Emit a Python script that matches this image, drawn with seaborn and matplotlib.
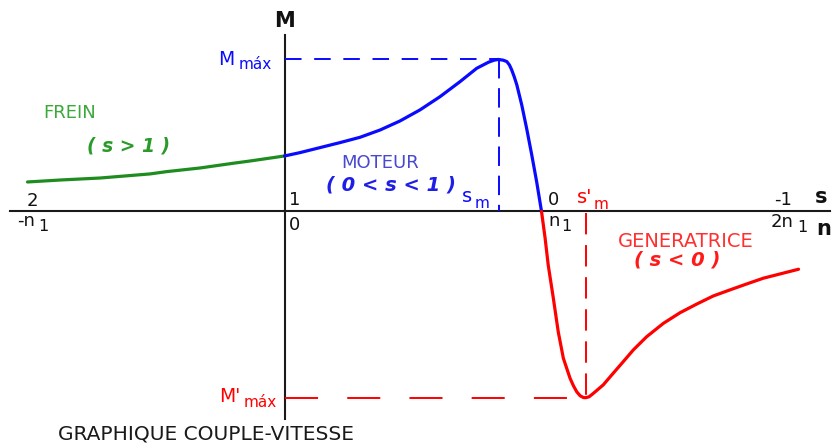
import numpy as np
import pandas as pd
import matplotlib
matplotlib.use("Agg")
import matplotlib.pyplot as plt
import seaborn as sns

# ---- data: slip s vs. torque M (M_max = 1) ----
frein_s = [2.0, 1.872, 1.718, 1.523, 1.459, 1.329, 1.200, 1.134, 1.0]
frein_M = [0.194, 0.207, 0.220, 0.247, 0.262, 0.286, 0.317, 0.332, 0.365]

moteur_s = [1.0, 0.940, 0.862, 0.784, 0.706, 0.628, 0.551, 0.473, 0.395, 0.317,
            0.252, 0.206, 0.185, 0.168, 0.149, 0.135, 0.125, 0.116, 0.106, 0.096,
            0.077, 0.058, 0.038, 0.019, 0.0]
moteur_M = [0.365, 0.387, 0.420, 0.453, 0.488, 0.536, 0.595, 0.668, 0.755, 0.854,
            0.942, 0.982, 0.995, 1.000, 0.995, 0.986, 0.964, 0.931, 0.885, 0.832,
            0.701, 0.547, 0.372, 0.196, 0.0]

gen_s = [0.0, -0.014, -0.026, -0.046, -0.065, -0.085, -0.111, -0.124, -0.137, -0.150,
         -0.163, -0.172, -0.185, -0.202, -0.240, -0.279, -0.318, -0.357, -0.409,
         -0.474, -0.539, -0.604, -0.668, -0.733, -0.798, -0.863, -0.928, -1.0]
gen_M = [0.0, -0.176, -0.352, -0.571, -0.791, -0.966, -1.097, -1.146, -1.186, -1.212,
         -1.224, -1.225, -1.219, -1.196, -1.141, -1.064, -0.988, -0.911, -0.824,
         -0.736, -0.666, -0.609, -0.556, -0.516, -0.477, -0.439, -0.411, -0.380]

M_max = 1.0
M_max_gen = -1.225
s_m = 0.166
s_m_gen = -0.172

# ---- style ----
sns.set_theme(style="white")
plt.rcParams["font.family"] = ["DejaVu Sans"]

W, H = 834, 443
fig = plt.figure(figsize=(W / 100, H / 100), dpi=100)
fig.patch.set_facecolor("white")
ax = fig.add_axes([0, 0, 1, 1])
ax.set_facecolor("white")

GREEN = "#1f8c1f"
BLUE = "#0a0aff"
RED = "#ff0000"

segments = [
    (frein_s, frein_M, GREEN),
    (moteur_s, moteur_M, BLUE),
    (gen_s, gen_M, RED),
]
for xs, ys, col in segments:
    df = pd.DataFrame({"s": xs, "M": ys})
    sns.lineplot(data=df, x="s", y="M", sort=False, estimator=None,
                 color=col, linewidth=2.3, ax=ax, zorder=3,
                 solid_joinstyle="round", solid_capstyle="round")

# reference dashed lines
ax.plot([1.0, s_m], [M_max, M_max], color=BLUE, lw=1.4, ls=(0, (8.5, 6.5)), zorder=2)
ax.plot([s_m, s_m], [M_max, 0], color=BLUE, lw=1.4, ls=(0, (10, 5)), zorder=2)
ax.plot([1.0, s_m_gen], [M_max_gen, M_max_gen], color=RED, lw=1.4, ls=(0, (17, 15)), zorder=2)
ax.plot([s_m_gen, s_m_gen], [-0.012, M_max_gen], color=RED, lw=1.4, ls=(0, (11, 5.5)), zorder=2)

# limits mapped to the reference pixel grid
ax.set_xlim(2.107, -1.138)
ax.set_ylim(-1.523, 1.391)
ax.set_xlabel("")
ax.set_ylabel("")
ax.set_xticks([])
ax.set_yticks([])

for side in ["top", "right"]:
    ax.spines[side].set_visible(False)
ax.spines["left"].set_position(("data", 1.0))
ax.spines["bottom"].set_position(("data", 0.0))
ax.spines["left"].set_bounds(-1.365, 1.161)
ax.spines["bottom"].set_bounds(-1.123, 2.068)
for side in ["left", "bottom"]:
    ax.spines[side].set_color("#1a1a1a")
    ax.spines[side].set_linewidth(1.5)
    ax.spines[side].set_zorder(1)


def T(x, y, txt, size=13, color="#111111", ha="left", **kw):
    ax.text(x / W, 1 - y / H, txt, transform=ax.transAxes, fontsize=size,
            color=color, ha=ha, va="baseline", **kw)


# axis names
T(285, 27, "M", size=15, ha="center", weight="bold")
T(815, 203, "s", size=15, weight="bold")
T(816, 235, "n", size=15, weight="bold")

# M max labels
T(218, 65, "M", size=13.5, color=BLUE)
T(239, 69, "máx", size=11, color=BLUE)
T(219, 402, "M'", size=13.5, color=RED)
T(244, 407, "máx", size=11, color=RED)

# slip labels (above axis)
T(27, 206, "2", size=13)
T(289, 205, "1", size=13)
T(548, 205, "0", size=13)
T(774, 205, "-1", size=13)
T(462, 202, "s", size=14, color=BLUE)
T(475, 208, "m", size=11, color=BLUE)
T(577, 203, "s'", size=14, color=RED)
T(594, 209, "m", size=11, color=RED)

# speed labels (below axis)
T(17, 226, "-n", size=13)
T(38, 231, "1", size=11.5)
T(289, 230, "0", size=13)
T(548, 226, "n", size=13)
T(561, 231, "1", size=11.5)
T(771, 227, "2n", size=13)
T(797, 232, "1", size=11.5)

# region labels
T(70, 118, "FREIN", size=13, color="#3aa83a", ha="center")
T(129, 151, "( s > 1 )", size=13.5, color="#2a9a2a", ha="center",
  weight="bold", style="italic")
T(380, 168, "MOTEUR", size=13, color="#4848d0", ha="center")
T(391, 190, "( 0 < s < 1 )", size=14, color="#1e1ee6", ha="center",
  weight="bold", style="italic")
T(686, 247, "GENERATRICE", size=14, color="#ff3030", ha="center")
T(677, 265, "( s < 0 )", size=14, color="#ff1a1a", ha="center",
  weight="bold", style="italic")

T(58, 440, "GRAPHIQUE COUPLE-VITESSE", size=14.5, color="#1a1a1a")

fig.savefig("out.png", dpi=100, facecolor="white")
